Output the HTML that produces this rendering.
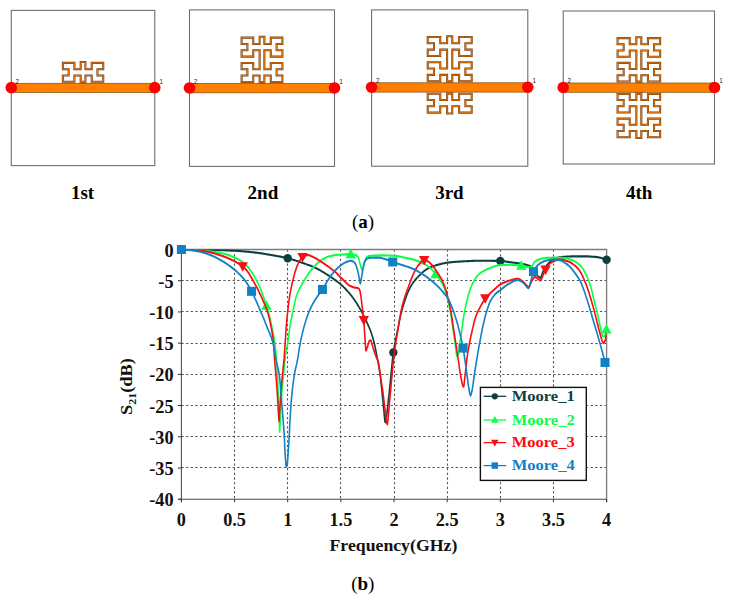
<!DOCTYPE html>
<html><head><meta charset="utf-8"><title>Moore fractal resonator figure</title>
<style>
html,body{margin:0;padding:0;background:#fff;}
body{width:729px;height:601px;overflow:hidden;font-family:"Liberation Serif",serif;}
svg{display:block}
</style></head><body>
<svg width="729" height="601" viewBox="0 0 729 601">
<defs><clipPath id="plotclip"><rect x="181.4" y="249.5" width="425.20" height="251.70"/></clipPath></defs>
<rect x="0" y="0" width="729" height="601" fill="#fff"/>
<rect x="11.30" y="10.40" width="143.50" height="155.20" fill="#fff" stroke="#6f6f6f" stroke-width="1.1"/>
<rect x="80.68" y="81.70" width="4.73" height="3" fill="#ff7f00"/>
<path d="M80.68,85.30 L80.68,81.70 L80.68,75.43 L74.40,75.43 L74.40,81.70 L68.63,81.70 L62.86,81.70 L62.86,75.43 L68.63,75.43 L68.63,69.16 L62.86,69.16 L62.86,62.89 L68.63,62.89 L74.40,62.89 L74.40,69.16 L80.68,69.16 L80.68,62.09 L85.42,62.09 L85.42,69.16 L91.71,69.16 L91.71,62.89 L97.48,62.89 L103.25,62.89 L103.25,69.16 L97.48,69.16 L97.48,75.43 L103.25,75.43 L103.25,81.70 L97.48,81.70 L91.71,81.70 L91.71,75.43 L85.42,75.43 L85.42,81.70 L85.42,85.30 M80.68,81.70 L85.42,81.70" fill="none" stroke="#7a3f0e" stroke-width="2.05" stroke-linejoin="miter"/>
<path d="M80.68,85.30 L80.68,81.70 L80.68,75.43 L74.40,75.43 L74.40,81.70 L68.63,81.70 L62.86,81.70 L62.86,75.43 L68.63,75.43 L68.63,69.16 L62.86,69.16 L62.86,62.89 L68.63,62.89 L74.40,62.89 L74.40,69.16 L80.68,69.16 L80.68,62.09 L85.42,62.09 L85.42,69.16 L91.71,69.16 L91.71,62.89 L97.48,62.89 L103.25,62.89 L103.25,69.16 L97.48,69.16 L97.48,75.43 L103.25,75.43 L103.25,81.70 L97.48,81.70 L91.71,81.70 L91.71,75.43 L85.42,75.43 L85.42,81.70 L85.42,85.30 M80.68,81.70 L85.42,81.70" fill="none" stroke="#e67c12" stroke-width="0.95" stroke-linejoin="miter"/>
<rect x="11.30" y="83.30" width="143.50" height="9.10" fill="#ff7f00" stroke="#8f4f10" stroke-width="0.75"/>
<circle cx="11.30" cy="87.65" r="5.8" fill="#fe0000"/>
<circle cx="154.80" cy="87.65" r="5.8" fill="#fe0000"/>
<text x="15.60" y="83.70" font-family="Liberation Sans, sans-serif" font-size="6.3" fill="#222">2</text>
<text x="159.60" y="83.60" font-family="Liberation Sans, sans-serif" font-size="6.3" fill="#222">1</text>
<rect x="189.50" y="9.90" width="145.00" height="156.50" fill="#fff" stroke="#6f6f6f" stroke-width="1.1"/>
<rect x="259.61" y="81.90" width="4.78" height="3" fill="#ff7f00"/>
<path d="M259.61,85.50 L259.61,81.90 L259.61,75.58 L253.25,75.58 L253.25,81.90 L247.42,81.90 L241.59,81.90 L241.59,75.58 L247.42,75.58 L247.42,69.25 L241.59,69.25 L241.59,62.93 L247.42,62.93 L253.25,62.93 L253.25,69.25 L259.61,69.25 L259.61,62.93 L259.61,56.61 L259.61,50.29 L253.25,50.29 L253.25,56.61 L247.42,56.61 L241.59,56.61 L241.59,50.29 L247.42,50.29 L247.42,43.96 L241.59,43.96 L241.59,37.64 L247.42,37.64 L253.25,37.64 L253.25,43.96 L259.61,43.96 L259.61,36.84 L264.39,36.84 L264.39,43.96 L270.75,43.96 L270.75,37.64 L276.58,37.64 L282.41,37.64 L282.41,43.96 L276.58,43.96 L276.58,50.29 L282.41,50.29 L282.41,56.61 L276.58,56.61 L270.75,56.61 L270.75,50.29 L264.39,50.29 L264.39,56.61 L264.39,62.93 L264.39,69.25 L270.75,69.25 L270.75,62.93 L276.58,62.93 L282.41,62.93 L282.41,69.25 L276.58,69.25 L276.58,75.58 L282.41,75.58 L282.41,81.90 L276.58,81.90 L270.75,81.90 L270.75,75.58 L264.39,75.58 L264.39,81.90 L264.39,85.50 M259.61,81.90 L264.39,81.90" fill="none" stroke="#7a3f0e" stroke-width="2.05" stroke-linejoin="miter"/>
<path d="M259.61,85.50 L259.61,81.90 L259.61,75.58 L253.25,75.58 L253.25,81.90 L247.42,81.90 L241.59,81.90 L241.59,75.58 L247.42,75.58 L247.42,69.25 L241.59,69.25 L241.59,62.93 L247.42,62.93 L253.25,62.93 L253.25,69.25 L259.61,69.25 L259.61,62.93 L259.61,56.61 L259.61,50.29 L253.25,50.29 L253.25,56.61 L247.42,56.61 L241.59,56.61 L241.59,50.29 L247.42,50.29 L247.42,43.96 L241.59,43.96 L241.59,37.64 L247.42,37.64 L253.25,37.64 L253.25,43.96 L259.61,43.96 L259.61,36.84 L264.39,36.84 L264.39,43.96 L270.75,43.96 L270.75,37.64 L276.58,37.64 L282.41,37.64 L282.41,43.96 L276.58,43.96 L276.58,50.29 L282.41,50.29 L282.41,56.61 L276.58,56.61 L270.75,56.61 L270.75,50.29 L264.39,50.29 L264.39,56.61 L264.39,62.93 L264.39,69.25 L270.75,69.25 L270.75,62.93 L276.58,62.93 L282.41,62.93 L282.41,69.25 L276.58,69.25 L276.58,75.58 L282.41,75.58 L282.41,81.90 L276.58,81.90 L270.75,81.90 L270.75,75.58 L264.39,75.58 L264.39,81.90 L264.39,85.50 M259.61,81.90 L264.39,81.90" fill="none" stroke="#e67c12" stroke-width="0.95" stroke-linejoin="miter"/>
<rect x="189.50" y="83.50" width="145.00" height="9.30" fill="#ff7f00" stroke="#8f4f10" stroke-width="0.75"/>
<circle cx="189.50" cy="87.95" r="5.8" fill="#fe0000"/>
<circle cx="334.50" cy="87.95" r="5.8" fill="#fe0000"/>
<text x="193.80" y="83.90" font-family="Liberation Sans, sans-serif" font-size="6.3" fill="#222">2</text>
<text x="339.30" y="83.80" font-family="Liberation Sans, sans-serif" font-size="6.3" fill="#222">1</text>
<rect x="371.60" y="9.90" width="156.20" height="156.30" fill="#fff" stroke="#6f6f6f" stroke-width="1.1"/>
<rect x="447.12" y="81.20" width="5.15" height="3" fill="#ff7f00"/>
<rect x="447.12" y="90.70" width="5.15" height="3" fill="#ff7f00"/>
<path d="M447.12,84.80 L447.12,81.20 L447.12,74.89 L440.28,74.89 L440.28,81.20 L434.00,81.20 L427.72,81.20 L427.72,74.89 L434.00,74.89 L434.00,68.57 L427.72,68.57 L427.72,62.26 L434.00,62.26 L440.28,62.26 L440.28,68.57 L447.12,68.57 L447.12,62.26 L447.12,55.94 L447.12,49.63 L440.28,49.63 L440.28,55.94 L434.00,55.94 L427.72,55.94 L427.72,49.63 L434.00,49.63 L434.00,43.31 L427.72,43.31 L427.72,37.00 L434.00,37.00 L440.28,37.00 L440.28,43.31 L447.12,43.31 L447.12,36.20 L452.28,36.20 L452.28,43.31 L459.12,43.31 L459.12,37.00 L465.40,37.00 L471.68,37.00 L471.68,43.31 L465.40,43.31 L465.40,49.63 L471.68,49.63 L471.68,55.94 L465.40,55.94 L459.12,55.94 L459.12,49.63 L452.28,49.63 L452.28,55.94 L452.28,62.26 L452.28,68.57 L459.12,68.57 L459.12,62.26 L465.40,62.26 L471.68,62.26 L471.68,68.57 L465.40,68.57 L465.40,74.89 L471.68,74.89 L471.68,81.20 L465.40,81.20 L459.12,81.20 L459.12,74.89 L452.28,74.89 L452.28,81.20 L452.28,84.80 M447.12,81.20 L452.28,81.20" fill="none" stroke="#7a3f0e" stroke-width="2.05" stroke-linejoin="miter"/>
<path d="M447.12,84.80 L447.12,81.20 L447.12,74.89 L440.28,74.89 L440.28,81.20 L434.00,81.20 L427.72,81.20 L427.72,74.89 L434.00,74.89 L434.00,68.57 L427.72,68.57 L427.72,62.26 L434.00,62.26 L440.28,62.26 L440.28,68.57 L447.12,68.57 L447.12,62.26 L447.12,55.94 L447.12,49.63 L440.28,49.63 L440.28,55.94 L434.00,55.94 L427.72,55.94 L427.72,49.63 L434.00,49.63 L434.00,43.31 L427.72,43.31 L427.72,37.00 L434.00,37.00 L440.28,37.00 L440.28,43.31 L447.12,43.31 L447.12,36.20 L452.28,36.20 L452.28,43.31 L459.12,43.31 L459.12,37.00 L465.40,37.00 L471.68,37.00 L471.68,43.31 L465.40,43.31 L465.40,49.63 L471.68,49.63 L471.68,55.94 L465.40,55.94 L459.12,55.94 L459.12,49.63 L452.28,49.63 L452.28,55.94 L452.28,62.26 L452.28,68.57 L459.12,68.57 L459.12,62.26 L465.40,62.26 L471.68,62.26 L471.68,68.57 L465.40,68.57 L465.40,74.89 L471.68,74.89 L471.68,81.20 L465.40,81.20 L459.12,81.20 L459.12,74.89 L452.28,74.89 L452.28,81.20 L452.28,84.80 M447.12,81.20 L452.28,81.20" fill="none" stroke="#e67c12" stroke-width="0.95" stroke-linejoin="miter"/>
<path d="M447.12,90.10 L447.12,93.70 L447.12,100.01 L440.28,100.01 L440.28,93.70 L434.00,93.70 L427.72,93.70 L427.72,100.01 L434.00,100.01 L434.00,106.33 L427.72,106.33 L427.72,112.64 L434.00,112.64 L440.28,112.64 L440.28,106.33 L447.12,106.33 L447.12,113.44 L452.28,113.44 L452.28,106.33 L459.12,106.33 L459.12,112.64 L465.40,112.64 L471.68,112.64 L471.68,106.33 L465.40,106.33 L465.40,100.01 L471.68,100.01 L471.68,93.70 L465.40,93.70 L459.12,93.70 L459.12,100.01 L452.28,100.01 L452.28,93.70 L452.28,90.10 M447.12,93.70 L452.28,93.70" fill="none" stroke="#7a3f0e" stroke-width="2.05" stroke-linejoin="miter"/>
<path d="M447.12,90.10 L447.12,93.70 L447.12,100.01 L440.28,100.01 L440.28,93.70 L434.00,93.70 L427.72,93.70 L427.72,100.01 L434.00,100.01 L434.00,106.33 L427.72,106.33 L427.72,112.64 L434.00,112.64 L440.28,112.64 L440.28,106.33 L447.12,106.33 L447.12,113.44 L452.28,113.44 L452.28,106.33 L459.12,106.33 L459.12,112.64 L465.40,112.64 L471.68,112.64 L471.68,106.33 L465.40,106.33 L465.40,100.01 L471.68,100.01 L471.68,93.70 L465.40,93.70 L459.12,93.70 L459.12,100.01 L452.28,100.01 L452.28,93.70 L452.28,90.10 M447.12,93.70 L452.28,93.70" fill="none" stroke="#e67c12" stroke-width="0.95" stroke-linejoin="miter"/>
<rect x="371.60" y="82.80" width="156.20" height="9.30" fill="#ff7f00" stroke="#8f4f10" stroke-width="0.75"/>
<circle cx="371.60" cy="87.25" r="5.8" fill="#fe0000"/>
<circle cx="527.80" cy="87.25" r="5.8" fill="#fe0000"/>
<text x="375.90" y="83.20" font-family="Liberation Sans, sans-serif" font-size="6.3" fill="#222">2</text>
<text x="532.60" y="83.10" font-family="Liberation Sans, sans-serif" font-size="6.3" fill="#222">1</text>
<rect x="563.20" y="11.00" width="151.30" height="153.00" fill="#fff" stroke="#6f6f6f" stroke-width="1.1"/>
<rect x="636.36" y="81.40" width="4.99" height="3" fill="#ff7f00"/>
<rect x="636.36" y="90.90" width="4.99" height="3" fill="#ff7f00"/>
<path d="M636.36,85.00 L636.36,81.40 L636.36,75.22 L629.72,75.22 L629.72,81.40 L623.64,81.40 L617.56,81.40 L617.56,75.22 L623.64,75.22 L623.64,69.04 L617.56,69.04 L617.56,62.86 L623.64,62.86 L629.72,62.86 L629.72,69.04 L636.36,69.04 L636.36,62.86 L636.36,56.68 L636.36,50.49 L629.72,50.49 L629.72,56.68 L623.64,56.68 L617.56,56.68 L617.56,50.49 L623.64,50.49 L623.64,44.31 L617.56,44.31 L617.56,38.13 L623.64,38.13 L629.72,38.13 L629.72,44.31 L636.36,44.31 L636.36,37.33 L641.34,37.33 L641.34,44.31 L647.98,44.31 L647.98,38.13 L654.06,38.13 L660.14,38.13 L660.14,44.31 L654.06,44.31 L654.06,50.49 L660.14,50.49 L660.14,56.68 L654.06,56.68 L647.98,56.68 L647.98,50.49 L641.34,50.49 L641.34,56.68 L641.34,62.86 L641.34,69.04 L647.98,69.04 L647.98,62.86 L654.06,62.86 L660.14,62.86 L660.14,69.04 L654.06,69.04 L654.06,75.22 L660.14,75.22 L660.14,81.40 L654.06,81.40 L647.98,81.40 L647.98,75.22 L641.34,75.22 L641.34,81.40 L641.34,85.00 M636.36,81.40 L641.34,81.40" fill="none" stroke="#7a3f0e" stroke-width="2.05" stroke-linejoin="miter"/>
<path d="M636.36,85.00 L636.36,81.40 L636.36,75.22 L629.72,75.22 L629.72,81.40 L623.64,81.40 L617.56,81.40 L617.56,75.22 L623.64,75.22 L623.64,69.04 L617.56,69.04 L617.56,62.86 L623.64,62.86 L629.72,62.86 L629.72,69.04 L636.36,69.04 L636.36,62.86 L636.36,56.68 L636.36,50.49 L629.72,50.49 L629.72,56.68 L623.64,56.68 L617.56,56.68 L617.56,50.49 L623.64,50.49 L623.64,44.31 L617.56,44.31 L617.56,38.13 L623.64,38.13 L629.72,38.13 L629.72,44.31 L636.36,44.31 L636.36,37.33 L641.34,37.33 L641.34,44.31 L647.98,44.31 L647.98,38.13 L654.06,38.13 L660.14,38.13 L660.14,44.31 L654.06,44.31 L654.06,50.49 L660.14,50.49 L660.14,56.68 L654.06,56.68 L647.98,56.68 L647.98,50.49 L641.34,50.49 L641.34,56.68 L641.34,62.86 L641.34,69.04 L647.98,69.04 L647.98,62.86 L654.06,62.86 L660.14,62.86 L660.14,69.04 L654.06,69.04 L654.06,75.22 L660.14,75.22 L660.14,81.40 L654.06,81.40 L647.98,81.40 L647.98,75.22 L641.34,75.22 L641.34,81.40 L641.34,85.00 M636.36,81.40 L641.34,81.40" fill="none" stroke="#e67c12" stroke-width="0.95" stroke-linejoin="miter"/>
<path d="M636.36,90.30 L636.36,93.90 L636.36,100.08 L629.72,100.08 L629.72,93.90 L623.64,93.90 L617.56,93.90 L617.56,100.08 L623.64,100.08 L623.64,106.26 L617.56,106.26 L617.56,112.44 L623.64,112.44 L629.72,112.44 L629.72,106.26 L636.36,106.26 L636.36,112.44 L636.36,118.62 L636.36,124.81 L629.72,124.81 L629.72,118.62 L623.64,118.62 L617.56,118.62 L617.56,124.81 L623.64,124.81 L623.64,130.99 L617.56,130.99 L617.56,137.17 L623.64,137.17 L629.72,137.17 L629.72,130.99 L636.36,130.99 L636.36,137.97 L641.34,137.97 L641.34,130.99 L647.98,130.99 L647.98,137.17 L654.06,137.17 L660.14,137.17 L660.14,130.99 L654.06,130.99 L654.06,124.81 L660.14,124.81 L660.14,118.62 L654.06,118.62 L647.98,118.62 L647.98,124.81 L641.34,124.81 L641.34,118.62 L641.34,112.44 L641.34,106.26 L647.98,106.26 L647.98,112.44 L654.06,112.44 L660.14,112.44 L660.14,106.26 L654.06,106.26 L654.06,100.08 L660.14,100.08 L660.14,93.90 L654.06,93.90 L647.98,93.90 L647.98,100.08 L641.34,100.08 L641.34,93.90 L641.34,90.30 M636.36,93.90 L641.34,93.90" fill="none" stroke="#7a3f0e" stroke-width="2.05" stroke-linejoin="miter"/>
<path d="M636.36,90.30 L636.36,93.90 L636.36,100.08 L629.72,100.08 L629.72,93.90 L623.64,93.90 L617.56,93.90 L617.56,100.08 L623.64,100.08 L623.64,106.26 L617.56,106.26 L617.56,112.44 L623.64,112.44 L629.72,112.44 L629.72,106.26 L636.36,106.26 L636.36,112.44 L636.36,118.62 L636.36,124.81 L629.72,124.81 L629.72,118.62 L623.64,118.62 L617.56,118.62 L617.56,124.81 L623.64,124.81 L623.64,130.99 L617.56,130.99 L617.56,137.17 L623.64,137.17 L629.72,137.17 L629.72,130.99 L636.36,130.99 L636.36,137.97 L641.34,137.97 L641.34,130.99 L647.98,130.99 L647.98,137.17 L654.06,137.17 L660.14,137.17 L660.14,130.99 L654.06,130.99 L654.06,124.81 L660.14,124.81 L660.14,118.62 L654.06,118.62 L647.98,118.62 L647.98,124.81 L641.34,124.81 L641.34,118.62 L641.34,112.44 L641.34,106.26 L647.98,106.26 L647.98,112.44 L654.06,112.44 L660.14,112.44 L660.14,106.26 L654.06,106.26 L654.06,100.08 L660.14,100.08 L660.14,93.90 L654.06,93.90 L647.98,93.90 L647.98,100.08 L641.34,100.08 L641.34,93.90 L641.34,90.30 M636.36,93.90 L641.34,93.90" fill="none" stroke="#e67c12" stroke-width="0.95" stroke-linejoin="miter"/>
<rect x="563.20" y="83.00" width="151.30" height="9.30" fill="#ff7f00" stroke="#8f4f10" stroke-width="0.75"/>
<circle cx="563.20" cy="87.45" r="5.8" fill="#fe0000"/>
<circle cx="714.50" cy="87.45" r="5.8" fill="#fe0000"/>
<text x="567.50" y="83.40" font-family="Liberation Sans, sans-serif" font-size="6.3" fill="#222">2</text>
<text x="719.30" y="83.30" font-family="Liberation Sans, sans-serif" font-size="6.3" fill="#222">1</text>
<text x="82.6" y="198.9" font-family="Liberation Serif, serif" font-size="19" font-weight="bold" text-anchor="middle" fill="#000">1st</text>
<text x="262.9" y="198.9" font-family="Liberation Serif, serif" font-size="19" font-weight="bold" text-anchor="middle" fill="#000">2nd</text>
<text x="449.4" y="198.9" font-family="Liberation Serif, serif" font-size="19" font-weight="bold" text-anchor="middle" fill="#000">3rd</text>
<text x="639.2" y="198.9" font-family="Liberation Serif, serif" font-size="19" font-weight="bold" text-anchor="middle" fill="#000">4th</text>
<text x="363" y="227.7" font-family="Liberation Serif, serif" font-size="19" text-anchor="middle" fill="#000">(<tspan font-weight="bold">a</tspan>)</text>
<text x="362.8" y="590" font-family="Liberation Serif, serif" font-size="19" text-anchor="middle" fill="#000">(<tspan font-weight="bold">b</tspan>)</text>
<rect x="181.4" y="249.5" width="425.20" height="249.70" fill="#fff" stroke="none"/>
<line x1="234.50" y1="249.5" x2="234.50" y2="499.2" stroke="#585858" stroke-width="1.1" stroke-dasharray="2.3,2.35"/>
<line x1="287.50" y1="249.5" x2="287.50" y2="499.2" stroke="#585858" stroke-width="1.1" stroke-dasharray="2.3,2.35"/>
<line x1="340.50" y1="249.5" x2="340.50" y2="499.2" stroke="#585858" stroke-width="1.1" stroke-dasharray="2.3,2.35"/>
<line x1="394.50" y1="249.5" x2="394.50" y2="499.2" stroke="#585858" stroke-width="1.1" stroke-dasharray="2.3,2.35"/>
<line x1="447.50" y1="249.5" x2="447.50" y2="499.2" stroke="#585858" stroke-width="1.1" stroke-dasharray="2.3,2.35"/>
<line x1="500.50" y1="249.5" x2="500.50" y2="499.2" stroke="#585858" stroke-width="1.1" stroke-dasharray="2.3,2.35"/>
<line x1="553.50" y1="249.5" x2="553.50" y2="499.2" stroke="#585858" stroke-width="1.1" stroke-dasharray="2.3,2.35"/>
<line x1="181.4" y1="280.50" x2="606.6" y2="280.50" stroke="#585858" stroke-width="1.1" stroke-dasharray="2.3,2.35"/>
<line x1="181.4" y1="311.50" x2="606.6" y2="311.50" stroke="#585858" stroke-width="1.1" stroke-dasharray="2.3,2.35"/>
<line x1="181.4" y1="343.50" x2="606.6" y2="343.50" stroke="#585858" stroke-width="1.1" stroke-dasharray="2.3,2.35"/>
<line x1="181.4" y1="374.50" x2="606.6" y2="374.50" stroke="#585858" stroke-width="1.1" stroke-dasharray="2.3,2.35"/>
<line x1="181.4" y1="405.50" x2="606.6" y2="405.50" stroke="#585858" stroke-width="1.1" stroke-dasharray="2.3,2.35"/>
<line x1="181.4" y1="436.50" x2="606.6" y2="436.50" stroke="#585858" stroke-width="1.1" stroke-dasharray="2.3,2.35"/>
<line x1="181.4" y1="467.50" x2="606.6" y2="467.50" stroke="#585858" stroke-width="1.1" stroke-dasharray="2.3,2.35"/>
<path d="M181.4,249.5 L606.6,249.5 L606.6,502.2" fill="none" stroke="#7c7c7c" stroke-width="1.3"/>
<line x1="181.4" y1="249.5" x2="181.4" y2="502.2" stroke="#4a4a4a" stroke-width="1.05"/>
<line x1="178.4" y1="499.2" x2="606.6" y2="499.2" stroke="#4a4a4a" stroke-width="1.05"/>
<line x1="181.40" y1="499.2" x2="181.40" y2="502.2" stroke="#333" stroke-width="1"/>
<line x1="234.55" y1="499.2" x2="234.55" y2="502.2" stroke="#333" stroke-width="1"/>
<line x1="287.70" y1="499.2" x2="287.70" y2="502.2" stroke="#333" stroke-width="1"/>
<line x1="340.85" y1="499.2" x2="340.85" y2="502.2" stroke="#333" stroke-width="1"/>
<line x1="394.00" y1="499.2" x2="394.00" y2="502.2" stroke="#333" stroke-width="1"/>
<line x1="447.15" y1="499.2" x2="447.15" y2="502.2" stroke="#333" stroke-width="1"/>
<line x1="500.30" y1="499.2" x2="500.30" y2="502.2" stroke="#333" stroke-width="1"/>
<line x1="553.45" y1="499.2" x2="553.45" y2="502.2" stroke="#333" stroke-width="1"/>
<line x1="606.60" y1="499.2" x2="606.60" y2="502.2" stroke="#333" stroke-width="1"/>
<line x1="177.9" y1="249.50" x2="181.4" y2="249.50" stroke="#333" stroke-width="1"/>
<line x1="177.9" y1="280.71" x2="181.4" y2="280.71" stroke="#333" stroke-width="1"/>
<line x1="177.9" y1="311.93" x2="181.4" y2="311.93" stroke="#333" stroke-width="1"/>
<line x1="177.9" y1="343.14" x2="181.4" y2="343.14" stroke="#333" stroke-width="1"/>
<line x1="177.9" y1="374.35" x2="181.4" y2="374.35" stroke="#333" stroke-width="1"/>
<line x1="177.9" y1="405.56" x2="181.4" y2="405.56" stroke="#333" stroke-width="1"/>
<line x1="177.9" y1="436.77" x2="181.4" y2="436.77" stroke="#333" stroke-width="1"/>
<line x1="177.9" y1="467.99" x2="181.4" y2="467.99" stroke="#333" stroke-width="1"/>
<line x1="177.9" y1="499.20" x2="181.4" y2="499.20" stroke="#333" stroke-width="1"/>
<g clip-path="url(#plotclip)"><path transform="scale(0.75,1)" d="M241.9,249.5 242.7,249.5 243.6,249.5 244.4,249.5 245.3,249.5 246.1,249.5 247.0,249.5 247.8,249.5 248.7,249.5 249.5,249.5 250.4,249.5 251.2,249.5 252.1,249.5 252.9,249.5 253.8,249.5 254.6,249.6 255.5,249.6 256.3,249.6 257.2,249.6 258.0,249.6 258.9,249.6 259.7,249.6 260.6,249.6 261.4,249.6 262.3,249.6 263.1,249.6 264.0,249.6 264.8,249.7 265.7,249.7 266.5,249.7 267.4,249.7 268.2,249.7 269.1,249.7 269.9,249.7 270.8,249.7 271.6,249.7 272.5,249.7 273.3,249.8 274.2,249.8 275.0,249.8 275.9,249.8 276.7,249.8 277.3,249.8 277.6,249.8 278.4,249.8 279.3,249.8 280.1,249.9 281.0,249.9 281.8,249.9 282.7,249.9 283.5,249.9 284.4,249.9 285.2,249.9 286.1,250.0 286.9,250.0 287.8,250.0 288.6,250.0 289.5,250.0 290.3,250.1 291.2,250.1 292.0,250.1 292.9,250.1 293.7,250.1 294.6,250.2 295.4,250.2 296.3,250.2 297.1,250.2 298.0,250.3 298.8,250.3 299.7,250.3 300.5,250.3 301.4,250.4 302.2,250.4 303.1,250.4 303.9,250.4 304.8,250.5 305.6,250.5 306.5,250.5 307.3,250.6 308.2,250.6 309.0,250.6 309.9,250.6 310.7,250.7 311.6,250.7 312.4,250.7 312.7,250.7 313.3,250.8 314.2,250.8 315.0,250.8 315.9,250.9 316.7,250.9 317.6,251.0 318.4,251.0 319.3,251.0 320.1,251.1 321.0,251.1 321.8,251.2 322.7,251.2 323.5,251.3 324.4,251.3 325.2,251.4 326.1,251.5 326.9,251.5 327.8,251.6 328.6,251.6 329.5,251.7 330.3,251.8 331.2,251.8 332.0,251.9 332.9,251.9 333.7,252.0 334.6,252.1 335.4,252.2 336.3,252.2 337.1,252.3 338.0,252.4 338.8,252.4 339.7,252.5 340.5,252.6 341.1,252.6 341.4,252.6 342.2,252.7 343.1,252.8 343.9,252.9 344.8,253.0 345.6,253.1 346.5,253.1 347.3,253.2 348.2,253.3 349.0,253.4 349.9,253.5 350.7,253.6 351.6,253.7 352.4,253.8 353.3,253.9 354.1,254.1 355.0,254.2 355.8,254.3 356.7,254.4 357.5,254.5 358.4,254.6 359.2,254.7 360.1,254.8 360.9,254.9 361.8,255.0 362.3,255.1 362.6,255.2 363.5,255.3 364.3,255.4 365.2,255.5 366.0,255.6 366.9,255.7 367.7,255.8 368.6,255.9 369.4,256.1 370.3,256.2 371.1,256.3 372.0,256.4 372.8,256.5 373.7,256.6 374.5,256.8 375.4,256.9 376.2,257.0 377.1,257.2 377.9,257.3 378.8,257.4 379.6,257.6 380.5,257.7 381.3,257.8 382.2,258.0 383.0,258.1 383.6,258.2 383.9,258.3 384.7,258.4 385.6,258.6 386.4,258.8 387.3,259.0 388.1,259.1 389.0,259.3 389.8,259.5 390.7,259.7 391.5,259.9 392.4,260.1 393.2,260.3 394.1,260.5 394.9,260.7 395.8,260.9 396.6,261.1 397.5,261.3 398.3,261.5 399.2,261.8 400.0,262.0 400.9,262.2 401.7,262.4 402.6,262.6 403.4,262.9 404.3,263.1 404.9,263.2 405.1,263.3 406.0,263.5 406.8,263.8 407.7,264.0 408.5,264.2 409.4,264.4 410.2,264.7 411.1,264.9 411.9,265.1 412.8,265.4 413.6,265.6 414.5,265.8 415.3,266.1 416.2,266.4 417.0,266.6 417.9,266.9 418.7,267.2 419.6,267.5 420.0,267.6 420.5,267.8 421.3,268.1 422.2,268.4 423.0,268.7 423.9,269.1 424.7,269.4 425.6,269.8 426.4,270.1 427.3,270.5 428.1,270.9 429.0,271.3 429.8,271.7 430.7,272.0 431.5,272.4 432.4,272.8 433.2,273.2 434.1,273.6 434.9,274.0 435.8,274.4 436.6,274.8 437.5,275.2 438.3,275.6 439.2,276.0 440.0,276.5 440.9,276.9 441.7,277.3 442.6,277.8 443.4,278.2 444.3,278.6 445.1,279.1 446.0,279.5 446.8,280.0 447.0,280.1 447.7,280.5 448.5,281.0 449.4,281.4 450.2,281.9 451.1,282.4 451.9,282.9 452.8,283.4 453.6,284.0 454.5,284.5 455.3,285.1 456.2,285.7 457.0,286.2 457.9,286.8 458.7,287.5 459.6,288.1 460.4,288.7 461.3,289.4 462.1,290.1 463.0,290.8 463.8,291.5 464.4,291.9 464.7,292.2 465.5,292.9 466.4,293.7 467.2,294.5 468.1,295.3 468.9,296.1 469.8,297.0 470.6,297.8 471.5,298.7 472.3,299.6 473.2,300.5 473.3,300.7 474.0,301.5 474.9,302.4 475.7,303.4 476.6,304.5 477.4,305.5 478.3,306.6 479.1,307.7 480.0,308.8 480.8,309.9 481.4,310.7 481.7,311.1 482.5,312.2 483.4,313.4 484.2,314.7 485.1,315.9 485.9,317.2 486.8,318.5 487.6,319.9 488.5,321.2 488.9,321.9 489.3,322.6 490.2,324.0 491.0,325.4 491.9,326.8 492.7,328.3 493.6,329.9 494.4,331.6 494.6,331.9 495.3,333.4 496.1,335.3 497.0,337.4 497.8,339.7 498.4,341.3 498.7,342.1 499.5,344.8 500.4,347.8 501.2,351.0 502.1,354.3 502.9,357.7 503.4,359.4 503.8,361.0 504.6,364.3 505.5,367.7 506.3,371.7 506.6,373.1 507.2,376.4 508.0,382.3 508.9,388.5 509.2,390.6 509.7,394.8 510.6,401.3 511.4,407.7 511.6,408.7 512.3,414.4 513.1,420.8 513.7,422.4 514.0,422.2 514.8,419.2 515.7,414.9 516.5,409.6 517.4,403.4 517.5,402.4 518.2,397.6 519.1,391.8 519.5,388.7 519.9,385.5 520.8,378.9 521.6,372.3 521.8,371.2 522.5,365.9 523.3,359.6 524.2,354.1 524.5,352.5 525.0,349.7 525.9,345.9 526.8,342.5 527.6,339.3 528.5,336.3 529.3,333.1 530.2,329.9 531.0,326.7 531.9,323.5 532.7,320.3 533.6,317.3 534.4,314.5 535.3,311.9 536.1,309.5 537.0,307.3 537.8,305.2 538.7,303.2 539.5,301.3 540.4,299.4 541.2,297.5 542.1,295.7 542.9,294.0 543.8,292.4 544.6,290.9 544.8,290.7 545.5,289.6 546.3,288.3 547.2,287.1 548.0,285.9 548.9,284.9 549.7,283.8 550.6,282.9 550.8,282.6 551.4,282.0 552.3,281.2 553.1,280.4 554.0,279.6 554.8,278.9 555.7,278.2 556.5,277.5 557.2,277.0 557.4,276.9 558.2,276.2 559.1,275.5 559.9,274.9 560.8,274.2 561.6,273.6 562.5,273.0 563.3,272.4 564.2,271.9 565.0,271.3 565.0,271.3 565.9,270.9 566.7,270.4 567.6,269.9 568.4,269.5 569.3,269.1 570.1,268.7 571.0,268.3 571.8,268.0 572.7,267.7 572.8,267.6 573.5,267.4 574.4,267.1 575.2,266.8 576.1,266.6 576.9,266.3 577.8,266.1 578.6,265.9 579.5,265.7 580.3,265.5 581.2,265.3 582.0,265.1 582.9,264.9 583.7,264.7 584.6,264.5 584.9,264.5 585.4,264.4 586.3,264.2 587.1,264.1 588.0,263.9 588.8,263.7 589.7,263.6 590.5,263.5 591.4,263.3 592.2,263.2 593.1,263.1 593.9,263.0 594.8,262.8 595.6,262.8 596.5,262.7 597.1,262.6 597.3,262.6 598.2,262.5 599.0,262.4 599.9,262.4 600.7,262.3 601.6,262.2 602.4,262.2 603.3,262.1 604.1,262.0 605.0,262.0 605.8,261.9 606.7,261.9 607.5,261.8 608.4,261.8 609.2,261.7 610.1,261.7 610.9,261.6 611.8,261.6 612.6,261.6 613.5,261.5 614.3,261.5 615.2,261.5 616.0,261.4 616.9,261.4 617.5,261.4 617.7,261.3 618.6,261.3 619.4,261.3 620.3,261.3 621.1,261.2 622.0,261.2 622.8,261.2 623.7,261.1 624.5,261.1 625.4,261.1 626.2,261.0 627.1,261.0 627.9,261.0 628.8,260.9 629.6,260.9 630.5,260.9 631.3,260.9 632.2,260.8 633.1,260.8 633.9,260.8 634.8,260.8 635.6,260.8 636.5,260.8 637.3,260.8 638.2,260.7 639.0,260.7 639.9,260.7 640.1,260.7 640.7,260.7 641.6,260.7 642.4,260.7 643.3,260.7 644.1,260.7 645.0,260.7 645.8,260.8 646.7,260.8 647.5,260.8 648.4,260.8 649.2,260.8 650.1,260.8 650.9,260.8 651.8,260.8 652.6,260.8 653.5,260.8 654.3,260.8 655.2,260.8 656.0,260.8 656.9,260.9 657.7,260.9 658.6,260.9 659.4,260.9 660.3,260.9 661.1,260.9 662.0,260.9 662.8,261.0 663.7,261.0 664.5,261.0 665.4,261.0 666.2,261.0 667.1,261.0 667.9,261.1 668.8,261.1 669.6,261.2 670.5,261.2 671.3,261.3 672.2,261.3 673.0,261.4 673.9,261.5 674.7,261.6 675.6,261.7 676.4,261.8 677.3,261.9 678.1,262.0 679.0,262.1 679.8,262.2 680.7,262.2 681.2,262.3 681.5,262.3 682.4,262.4 683.2,262.5 684.1,262.6 684.9,262.7 685.8,262.7 686.6,262.8 687.5,262.9 688.3,263.0 689.2,263.1 690.0,263.2 690.9,263.3 691.7,263.4 692.6,263.5 693.4,263.6 694.3,263.7 695.1,263.8 695.4,263.9 696.0,263.9 696.8,264.1 697.7,264.2 698.5,264.3 699.4,264.4 700.2,264.5 701.1,264.7 701.9,264.8 702.8,265.0 703.6,265.2 704.5,265.4 705.3,265.6 706.2,265.9 707.0,266.1 707.6,266.4 707.9,266.5 708.7,267.1 709.6,267.9 710.4,269.0 711.3,270.0 712.1,271.0 712.4,271.3 713.0,272.0 713.8,273.0 714.7,274.1 715.5,275.0 716.4,275.7 717.2,276.2 718.1,276.7 718.9,277.2 719.8,277.5 720.6,277.6 720.8,277.6 721.5,277.0 722.3,275.2 723.2,273.1 723.8,272.0 724.0,271.5 724.9,270.3 725.7,269.1 726.6,268.0 727.4,267.0 728.0,266.4 728.3,266.1 729.1,265.2 730.0,264.5 730.8,263.7 731.7,263.0 732.5,262.4 733.4,261.8 734.0,261.4 734.2,261.2 735.1,260.5 735.9,259.9 736.8,259.4 737.6,259.0 737.9,258.9 738.5,258.7 739.4,258.5 740.2,258.3 741.1,258.1 741.9,257.9 742.8,257.8 743.6,257.7 744.5,257.5 745.3,257.4 746.2,257.3 746.4,257.3 747.0,257.2 747.9,257.2 748.7,257.1 749.6,257.0 750.4,256.9 751.3,256.9 752.1,256.8 753.0,256.8 753.8,256.7 754.5,256.7 754.7,256.7 755.5,256.6 756.4,256.6 757.2,256.6 758.1,256.5 758.9,256.5 759.8,256.5 760.6,256.5 761.5,256.4 762.3,256.4 763.2,256.4 764.0,256.4 764.9,256.4 765.7,256.4 766.3,256.4 766.6,256.4 767.4,256.4 768.3,256.4 769.1,256.4 770.0,256.4 770.8,256.4 771.7,256.4 772.5,256.4 773.4,256.4 774.2,256.4 775.1,256.4 775.9,256.4 776.8,256.4 777.6,256.4 778.5,256.4 779.3,256.4 780.2,256.4 780.5,256.4 781.0,256.4 781.9,256.4 782.7,256.4 783.6,256.4 784.4,256.4 785.3,256.5 786.1,256.5 787.0,256.5 787.8,256.6 788.7,256.6 789.5,256.7 790.4,256.7 791.2,256.8 792.1,256.8 792.9,256.9 793.8,256.9 794.6,257.0 795.5,257.1 796.3,257.1 797.2,257.2 798.0,257.3 798.9,257.5 799.7,257.6 800.6,257.7 801.4,257.9 801.7,257.9 802.3,258.0 803.1,258.2 804.0,258.4 804.8,258.6 805.7,258.8 806.5,259.1 807.4,259.3 808.2,259.6 808.8,259.8" fill="none" stroke="#0c3f3f" stroke-width="2.1" stroke-linejoin="round"/></g>
<circle cx="287.70" cy="258.24" r="4.2" fill="#0c3f3f"/>
<circle cx="393.36" cy="352.50" r="4.2" fill="#0c3f3f"/>
<circle cx="500.30" cy="261.05" r="4.2" fill="#0c3f3f"/>
<circle cx="606.60" cy="259.80" r="4.2" fill="#0c3f3f"/>
<g clip-path="url(#plotclip)"><path transform="scale(0.75,1)" d="M241.9,249.5 242.7,249.5 243.6,249.5 244.4,249.5 245.3,249.5 246.1,249.5 247.0,249.5 247.8,249.6 248.7,249.6 249.5,249.6 250.4,249.6 251.2,249.6 252.1,249.7 252.9,249.7 253.8,249.7 254.6,249.7 255.5,249.8 256.3,249.8 257.2,249.8 258.0,249.9 258.9,249.9 259.7,249.9 260.6,250.0 261.4,250.0 262.3,250.0 263.1,250.1 264.0,250.1 264.5,250.1 264.8,250.1 265.7,250.2 266.5,250.2 267.4,250.3 268.2,250.3 269.1,250.4 269.9,250.4 270.8,250.5 271.6,250.6 272.5,250.7 273.3,250.7 274.2,250.8 275.0,250.9 275.9,251.0 276.7,251.0 277.6,251.1 278.4,251.2 279.3,251.3 280.1,251.4 281.0,251.5 281.8,251.5 282.7,251.6 283.5,251.7 284.4,251.8 285.2,251.9 286.1,252.0 286.9,252.1 287.8,252.2 288.6,252.3 289.5,252.4 290.3,252.5 291.2,252.6 292.0,252.7 292.9,252.8 293.7,252.9 294.6,253.1 295.4,253.2 295.7,253.2 296.3,253.3 297.1,253.5 298.0,253.6 298.8,253.8 299.7,254.0 300.5,254.1 301.4,254.3 302.2,254.5 303.1,254.7 303.9,254.9 304.8,255.1 305.6,255.4 306.5,255.6 307.3,255.8 308.2,256.1 309.0,256.3 309.9,256.6 310.7,256.8 311.3,257.0 311.6,257.1 312.4,257.4 313.3,257.6 314.2,257.9 315.0,258.3 315.9,258.6 316.7,258.9 317.6,259.3 318.4,259.6 319.3,260.0 320.1,260.4 321.0,260.8 321.8,261.3 322.7,261.7 323.5,262.2 324.4,262.6 325.2,263.1 326.1,263.6 326.9,264.2 327.8,264.7 328.6,265.4 329.5,266.1 330.3,266.8 331.2,267.6 332.0,268.4 332.9,269.3 333.7,270.2 334.6,271.1 335.4,272.0 336.3,272.9 337.1,273.9 338.0,274.9 338.8,276.0 339.7,277.1 340.5,278.3 341.4,279.5 342.2,280.7 343.1,282.0 343.9,283.3 344.8,284.6 345.6,286.0 346.5,287.5 347.3,289.0 348.2,290.5 349.0,292.1 349.6,293.2 349.9,293.7 350.7,295.5 351.6,297.3 352.4,299.2 353.3,301.1 354.1,303.0 355.0,305.0 355.3,305.7 355.8,307.0 356.7,309.0 357.5,311.2 357.8,311.9 358.4,313.5 359.2,316.0 360.1,318.6 360.9,321.4 361.8,324.3 362.3,326.3 362.6,327.3 363.5,330.3 364.3,333.5 365.2,337.0 366.0,340.9 366.5,343.1 366.9,345.6 367.7,351.4 368.6,358.6 368.7,360.0 369.4,368.4 369.9,374.4 370.3,381.0 371.1,396.2 372.0,412.5 372.3,418.0 372.8,430.8 373.0,431.8 373.7,420.6 373.8,418.0 374.5,407.0 375.1,399.3 375.4,396.2 376.2,388.4 376.8,383.7 377.1,381.5 377.9,375.4 378.1,374.4 378.8,368.7 379.6,361.9 379.9,360.0 380.5,356.5 381.3,351.9 381.5,351.3 382.2,348.4 383.0,345.4 383.6,343.1 383.9,341.8 384.7,337.1 385.6,332.0 386.4,327.5 387.3,323.8 388.1,320.3 389.0,317.1 389.8,314.0 390.4,311.9 390.7,310.9 391.5,307.8 392.4,304.7 393.2,301.7 394.1,299.0 394.9,296.7 395.2,296.0 395.8,294.8 396.6,293.1 397.5,291.7 398.3,290.3 399.2,289.0 400.0,287.8 400.6,287.0 400.9,286.5 401.7,285.3 402.6,284.1 403.4,283.0 404.3,281.9 405.1,280.8 406.0,279.8 406.3,279.5 406.8,278.8 407.7,277.8 408.5,276.8 409.4,275.8 410.2,274.9 411.1,274.0 411.9,273.0 412.8,272.1 413.6,271.3 414.5,270.4 415.3,269.6 416.2,268.8 417.0,268.1 417.2,268.0 417.9,267.4 418.7,266.7 419.6,266.0 420.5,265.3 421.3,264.6 422.2,263.9 423.0,263.3 423.9,262.7 424.7,262.1 425.6,261.6 426.4,261.1 427.3,260.6 428.1,260.2 428.2,260.1 429.0,259.8 429.8,259.4 430.7,259.1 431.5,258.7 432.4,258.4 433.2,258.1 434.1,257.8 434.9,257.5 435.8,257.2 436.6,257.0 437.5,256.8 438.3,256.5 439.2,256.4 439.2,256.4 440.0,256.2 440.9,256.0 441.7,255.9 442.6,255.7 443.4,255.6 444.3,255.5 445.1,255.3 446.0,255.2 446.8,255.1 447.7,255.0 448.5,254.9 449.4,254.9 450.2,254.8 451.1,254.8 451.9,254.7 452.8,254.7 453.6,254.6 454.5,254.6 455.3,254.5 456.2,254.5 457.0,254.5 457.3,254.5 457.9,254.5 458.7,254.5 459.6,254.5 460.4,254.4 461.3,254.4 462.1,254.4 463.0,254.4 463.8,254.4 464.7,254.4 465.5,254.4 466.4,254.4 467.2,254.4 467.6,254.4 468.1,254.4 468.9,254.4 469.8,254.5 470.6,254.5 471.5,254.6 472.3,254.8 473.2,254.9 474.0,255.1 474.3,255.1 474.9,255.3 475.7,255.7 476.6,256.3 477.4,257.1 477.9,257.6 478.3,258.3 479.1,260.8 480.0,263.7 480.7,265.7 480.8,266.1 481.7,268.4 482.5,270.0 482.8,270.1 483.4,269.6 484.2,267.5 484.9,265.7 485.1,265.4 485.9,263.3 486.8,260.9 487.6,258.8 488.5,257.3 488.9,257.0 489.3,256.8 490.2,256.5 491.0,256.2 491.9,256.0 492.7,255.9 493.6,255.8 494.2,255.7 494.4,255.7 495.3,255.7 496.1,255.7 497.0,255.6 497.8,255.6 498.7,255.6 499.5,255.6 500.4,255.5 501.2,255.5 502.1,255.5 502.9,255.5 503.8,255.5 504.6,255.5 505.5,255.5 506.3,255.5 507.2,255.4 508.0,255.4 508.9,255.4 509.7,255.4 510.6,255.4 511.2,255.4 511.4,255.4 512.3,255.4 513.1,255.4 514.0,255.4 514.8,255.5 515.7,255.5 516.5,255.5 517.4,255.5 518.2,255.5 519.1,255.5 519.9,255.6 520.8,255.6 521.6,255.6 522.5,255.6 523.3,255.7 524.2,255.7 525.0,255.7 525.3,255.7 525.9,255.8 526.8,255.8 527.6,255.9 528.5,256.0 529.3,256.1 530.2,256.2 531.0,256.3 531.9,256.4 532.7,256.5 533.6,256.7 534.4,256.8 535.3,256.9 536.1,257.1 537.0,257.2 537.8,257.4 538.7,257.5 539.5,257.6 540.4,257.7 541.2,257.9 542.1,258.0 542.9,258.1 543.8,258.2 544.6,258.4 545.5,258.5 546.3,258.6 547.2,258.8 548.0,258.9 548.9,259.1 549.7,259.3 550.6,259.4 550.8,259.5 551.4,259.6 552.3,259.8 553.1,260.0 554.0,260.2 554.8,260.4 555.7,260.6 556.5,260.9 557.4,261.1 558.2,261.3 559.1,261.6 559.9,261.8 560.8,262.1 561.6,262.4 562.5,262.7 563.3,263.0 564.2,263.3 565.0,263.6 565.9,263.9 566.4,264.2 566.7,264.3 567.6,264.6 568.4,265.0 569.3,265.4 570.1,265.9 571.0,266.3 571.8,266.8 572.7,267.3 573.5,267.9 574.4,268.5 574.9,268.9 575.2,269.1 576.1,269.7 576.9,270.5 577.8,271.3 578.6,272.2 579.5,273.1 580.3,273.9 580.6,274.2 581.2,274.7 582.0,275.4 582.9,276.2 583.7,276.9 584.6,277.7 585.4,278.6 586.3,279.5 587.1,280.4 588.0,281.4 588.8,282.5 589.7,283.7 590.5,284.9 591.4,286.3 592.2,287.9 593.1,289.7 593.9,291.7 594.8,293.8 595.6,296.1 596.5,298.4 597.1,300.1 597.3,300.9 598.2,303.6 599.0,306.5 599.9,309.7 600.5,311.9 600.7,313.1 601.6,316.9 602.4,321.1 603.3,325.3 603.9,328.2 604.1,329.6 605.0,333.8 605.8,338.1 606.7,342.4 606.8,343.1 607.5,347.5 608.4,353.0 609.2,356.2 609.4,356.2 610.1,355.9 610.9,354.6 611.1,354.4 611.8,351.5 612.6,345.9 613.2,342.5 613.5,341.2 614.3,337.6 615.2,333.8 616.0,329.0 616.9,323.8 617.7,318.9 618.0,317.5 618.6,315.0 619.4,311.5 620.3,308.2 621.1,305.2 622.0,302.4 622.6,300.7 622.8,299.9 623.7,297.4 624.5,295.1 625.4,292.9 626.2,290.8 627.1,288.9 627.9,287.2 628.8,285.7 629.6,284.3 630.5,283.0 631.3,281.8 632.2,280.6 633.1,279.5 633.9,278.4 634.8,277.5 635.6,276.6 636.5,275.8 637.3,275.1 638.2,274.5 638.2,274.5 639.0,273.9 639.9,273.4 640.7,272.9 641.6,272.4 642.4,272.0 643.3,271.6 644.1,271.2 645.0,270.9 645.8,270.5 646.7,270.2 647.5,269.9 648.4,269.6 649.2,269.3 650.1,269.0 650.6,268.9 650.9,268.8 651.8,268.5 652.6,268.2 653.5,268.0 654.3,267.7 655.2,267.5 656.0,267.2 656.9,267.0 657.7,266.7 658.6,266.5 659.4,266.3 660.3,266.1 661.1,265.9 662.0,265.7 662.8,265.6 663.7,265.4 664.5,265.3 665.4,265.2 666.2,265.2 667.1,265.1 667.9,265.1 668.8,265.0 669.6,265.0 670.5,265.0 671.3,265.0 672.2,264.9 673.0,264.9 673.9,264.9 674.7,264.9 675.6,264.9 676.4,264.8 677.3,264.8 678.1,264.8 679.0,264.8 679.8,264.8 680.7,264.8 681.2,264.8 681.5,264.8 682.4,264.8 683.2,264.8 684.1,264.9 684.9,264.9 685.8,264.9 686.6,265.0 687.5,265.0 688.3,265.1 689.2,265.2 690.0,265.2 690.9,265.3 691.7,265.4 692.6,265.5 693.4,265.6 694.3,265.6 695.1,265.7 696.0,265.8 696.8,266.0 697.7,266.1 698.5,266.3 699.4,266.5 700.2,266.7 701.1,266.8 701.9,266.9 702.8,267.0 703.2,267.0 703.6,267.0 704.5,267.0 705.3,267.0 706.2,267.0 707.0,267.0 707.9,267.0 708.7,267.0 709.0,267.0 709.6,266.6 710.4,265.2 711.3,263.6 712.0,262.6 712.1,262.5 713.0,261.8 713.8,261.3 714.7,260.8 715.5,260.4 716.4,260.1 717.2,259.8 718.1,259.6 718.9,259.4 719.8,259.1 720.6,258.9 721.5,258.8 722.3,258.6 723.2,258.5 724.0,258.4 724.9,258.3 725.2,258.2 725.7,258.2 726.6,258.1 727.4,258.1 728.3,258.0 729.1,257.9 730.0,257.9 730.8,257.8 731.7,257.8 732.5,257.7 733.4,257.7 734.2,257.7 735.1,257.7 735.9,257.6 736.8,257.6 737.6,257.6 737.9,257.6 738.5,257.6 739.4,257.6 740.2,257.6 741.1,257.6 741.9,257.7 742.8,257.7 743.6,257.7 744.5,257.7 745.3,257.8 746.2,257.8 747.0,257.8 747.9,257.9 748.7,257.9 749.6,257.9 750.4,258.0 751.3,258.0 752.1,258.1 753.0,258.1 753.8,258.2 754.5,258.2 754.7,258.2 755.5,258.3 756.4,258.4 757.2,258.6 758.1,258.8 758.9,259.0 759.8,259.2 760.6,259.4 761.5,259.7 762.3,259.9 763.2,260.2 764.0,260.5 764.9,260.8 765.7,261.1 766.3,261.4 766.6,261.5 767.4,261.8 768.3,262.2 769.1,262.6 770.0,263.1 770.8,263.6 771.7,264.1 772.5,264.7 773.4,265.3 774.2,265.9 774.8,266.4 775.1,266.6 775.9,267.4 776.8,268.3 777.6,269.3 778.5,270.4 779.3,271.6 780.2,272.8 780.5,273.2 781.0,274.1 781.9,275.4 782.7,276.7 783.6,278.2 784.4,279.8 785.3,281.4 786.1,283.2 787.0,285.0 787.5,286.3 787.8,287.0 788.7,289.4 789.5,292.1 790.4,294.9 791.2,297.7 791.8,299.4 792.1,300.3 792.9,302.9 793.8,305.4 794.6,307.9 795.5,310.5 796.3,313.1 796.8,314.4 797.2,315.8 798.0,318.7 798.9,321.7 799.7,324.7 800.6,327.5 801.0,328.8 801.4,330.1 802.3,333.1 803.1,335.5 803.8,336.3 804.0,336.3 804.8,336.3 805.7,336.3 806.0,336.3 806.5,336.0 807.4,334.6 808.2,332.4 808.8,330.7" fill="none" stroke="#0aff46" stroke-width="2.1" stroke-linejoin="round"/></g>
<path d="M261.24,309.68 L271.64,309.68 L266.44,300.18Z" fill="#0aff46"/>
<path d="M345.54,258.18 L355.94,258.18 L350.74,248.68Z" fill="#0aff46"/>
<path d="M430.26,278.16 L440.66,278.16 L435.46,268.66Z" fill="#0aff46"/>
<path d="M516.15,269.73 L526.55,269.73 L521.35,260.23Z" fill="#0aff46"/>
<path d="M601.19,333.40 L611.59,333.40 L606.39,323.90Z" fill="#0aff46"/>
<g clip-path="url(#plotclip)"><path transform="scale(0.75,1)" d="M241.9,249.5 242.7,249.5 243.6,249.5 244.4,249.5 245.3,249.5 246.1,249.5 247.0,249.6 247.8,249.6 248.7,249.6 249.5,249.6 250.4,249.7 251.2,249.7 252.1,249.7 252.9,249.8 253.8,249.8 254.6,249.9 255.5,249.9 256.3,249.9 257.2,250.0 258.0,250.0 258.9,250.1 259.7,250.1 260.6,250.2 261.4,250.2 262.3,250.3 263.1,250.3 264.0,250.4 264.5,250.4 264.8,250.5 265.7,250.5 266.5,250.6 267.4,250.7 268.2,250.7 269.1,250.8 269.9,250.9 270.8,251.0 271.6,251.1 272.5,251.2 273.3,251.3 274.2,251.4 275.0,251.6 275.9,251.7 276.7,251.8 277.6,251.9 278.4,252.0 279.3,252.2 280.1,252.3 281.0,252.4 281.8,252.6 282.7,252.7 283.5,252.9 284.4,253.1 285.2,253.2 286.1,253.4 286.9,253.6 287.8,253.8 288.6,254.0 289.5,254.2 290.3,254.4 291.2,254.6 292.0,254.8 292.9,255.0 293.7,255.2 294.6,255.4 295.4,255.7 295.7,255.7 296.3,255.9 297.1,256.1 298.0,256.4 298.8,256.6 299.7,256.8 300.5,257.1 301.4,257.3 302.2,257.6 303.1,257.9 303.9,258.1 304.8,258.4 305.6,258.7 306.5,259.0 307.3,259.3 308.2,259.6 309.0,259.9 309.9,260.2 310.7,260.5 311.3,260.7 311.6,260.8 312.4,261.2 313.3,261.5 314.2,261.8 315.0,262.2 315.9,262.5 316.7,262.9 317.6,263.2 318.4,263.6 319.3,264.0 320.1,264.4 321.0,264.9 321.8,265.3 322.7,265.8 323.5,266.3 323.6,266.4 324.4,266.8 325.2,267.4 326.1,268.0 326.9,268.7 327.8,269.4 328.6,270.1 329.5,270.9 330.3,271.8 331.2,272.6 332.0,273.5 332.9,274.5 333.7,275.6 334.6,276.7 335.4,277.8 336.3,279.0 337.1,280.1 337.5,280.7 338.0,281.3 338.8,282.5 339.7,283.6 340.5,284.8 341.4,286.0 342.2,287.2 343.1,288.4 343.9,289.7 344.8,291.0 345.6,292.3 346.5,293.6 347.3,294.9 348.2,296.3 349.0,297.7 349.9,299.1 350.7,300.5 351.6,301.9 352.4,303.3 353.3,304.9 354.1,306.5 355.0,308.2 355.8,310.0 356.7,311.9 357.5,314.0 358.4,316.4 359.2,318.9 360.1,321.7 360.9,324.8 361.6,327.5 361.8,328.1 362.6,331.7 363.5,336.0 364.3,341.1 364.6,343.1 365.2,348.6 366.0,358.6 366.2,360.0 366.9,366.1 367.7,373.1 367.9,374.4 368.6,381.1 369.4,389.9 369.7,393.1 370.3,400.4 371.1,411.8 372.0,421.2 372.8,411.8 373.7,401.2 374.4,393.1 374.5,391.7 375.4,384.2 376.2,377.6 376.7,374.4 377.1,371.3 377.9,365.5 378.6,360.0 378.8,358.7 379.6,349.6 380.2,343.1 380.5,339.9 381.3,330.1 381.9,324.4 382.2,322.0 383.0,315.7 383.6,311.9 383.9,310.0 384.7,304.5 385.6,299.4 386.4,295.1 387.3,291.4 388.1,288.2 389.0,285.3 389.8,282.5 390.4,280.7 390.7,279.8 391.5,277.2 392.4,274.8 393.2,272.5 394.1,270.4 394.2,270.1 394.9,268.5 395.8,266.7 396.6,265.1 397.5,263.7 397.8,263.2 398.3,262.4 399.2,261.2 400.0,260.1 400.9,259.1 401.7,258.2 402.6,257.5 403.4,257.0 403.4,257.0 404.3,256.6 405.1,256.3 406.0,256.0 406.8,255.7 407.7,255.5 408.5,255.3 409.4,255.2 410.2,255.1 410.5,255.1 411.1,255.1 411.9,255.2 412.8,255.4 413.6,255.6 414.5,255.9 415.3,256.2 416.2,256.5 417.0,256.8 417.6,257.0 417.9,257.1 418.7,257.4 419.6,257.7 420.5,258.1 421.3,258.5 422.2,258.8 423.0,259.2 423.9,259.7 424.7,260.1 425.6,260.5 426.1,260.7 426.4,260.9 427.3,261.3 428.1,261.7 429.0,262.1 429.8,262.5 430.7,262.9 431.5,263.4 432.4,263.8 433.2,264.2 434.1,264.7 434.9,265.1 435.8,265.6 436.0,265.7 436.6,266.0 437.5,266.5 438.3,266.9 439.2,267.4 440.0,267.9 440.9,268.3 441.7,268.8 442.6,269.3 443.4,269.8 444.3,270.3 445.1,270.8 446.0,271.3 446.8,271.9 447.0,272.0 447.7,272.4 448.5,273.0 449.4,273.7 450.2,274.3 451.1,275.0 451.9,275.7 452.8,276.3 453.6,277.0 454.5,277.6 455.3,278.2 456.2,278.8 457.0,279.4 457.9,280.1 458.7,280.7 459.6,281.4 460.4,282.0 461.3,282.6 462.1,283.2 463.0,283.8 463.8,284.3 464.7,284.8 465.5,285.3 466.4,285.7 467.2,286.0 468.1,286.3 468.9,286.6 469.8,286.9 470.6,287.1 471.5,287.3 472.3,287.5 472.9,287.6 473.2,287.6 474.0,287.7 474.9,287.7 475.7,287.8 476.6,287.9 476.9,287.9 477.4,288.1 478.3,288.6 479.1,289.4 479.4,289.8 480.0,291.1 480.8,294.4 481.1,295.7 481.7,298.9 482.5,304.4 483.4,309.4 484.2,314.4 485.1,320.0 485.9,329.9 486.5,336.9 486.8,340.3 487.6,349.7 487.9,350.6 488.5,350.1 489.3,348.2 489.9,346.9 490.2,346.2 491.0,343.9 491.9,341.6 492.7,340.6 493.6,340.6 494.4,340.6 494.6,340.6 495.3,341.7 496.1,344.4 496.6,345.6 497.0,346.7 497.8,348.7 498.7,350.7 499.5,352.7 500.4,354.5 501.2,356.2 502.1,357.7 502.9,359.0 503.8,360.6 504.1,361.2 504.6,363.1 505.5,367.0 506.3,371.5 507.2,376.1 507.5,377.5 508.0,380.1 508.9,383.9 509.7,387.8 510.2,390.0 510.6,392.3 511.4,397.4 512.3,402.8 513.1,407.9 513.3,408.7 514.0,413.0 514.8,418.6 515.7,422.9 516.4,424.3 516.5,424.2 517.4,419.8 518.2,411.9 519.0,405.6 519.1,404.5 519.9,397.8 520.8,391.0 521.1,388.7 521.6,384.0 522.5,376.9 523.2,371.2 523.3,370.1 524.2,363.7 525.0,357.6 525.8,353.1 525.9,352.3 526.8,347.6 527.6,343.2 528.5,339.1 529.3,335.2 530.2,331.3 530.4,330.0 531.0,327.4 531.9,323.5 532.7,319.6 533.6,315.9 534.4,312.5 535.3,309.4 536.1,306.7 537.0,304.2 537.8,301.9 538.7,299.7 539.5,297.6 540.4,295.6 541.2,293.7 542.1,291.9 542.9,290.1 543.8,288.4 544.6,286.6 544.8,286.3 545.5,284.9 546.3,283.1 547.2,281.3 548.0,279.6 548.9,278.0 549.4,277.0 549.7,276.5 550.6,275.0 551.4,273.5 552.3,272.2 553.1,270.9 553.7,270.1 554.0,269.7 554.8,268.6 555.7,267.6 556.5,266.6 557.4,265.7 558.2,264.8 559.1,264.1 559.3,263.9 559.9,263.4 560.8,262.7 561.6,262.0 562.5,261.4 563.3,260.8 564.2,260.4 565.0,260.2 565.6,260.1 565.9,260.1 566.7,260.2 567.6,260.4 568.4,260.6 569.3,260.9 570.1,261.2 570.7,261.4 571.0,261.5 571.8,261.9 572.7,262.5 573.5,263.1 574.4,263.8 575.2,264.5 575.9,265.1 576.1,265.2 576.9,266.0 577.8,266.8 578.6,267.6 579.5,268.4 580.3,269.3 581.2,270.2 582.0,271.2 582.9,272.2 583.7,273.1 584.6,274.1 584.9,274.5 585.4,275.1 586.3,276.1 587.1,277.2 588.0,278.3 588.8,279.4 589.7,280.6 590.5,282.0 591.4,283.4 592.2,285.0 593.1,286.8 593.9,288.7 594.5,290.1 594.8,290.8 595.6,293.0 596.5,295.3 597.3,297.8 598.2,300.4 599.0,303.3 599.9,306.3 600.7,309.4 601.6,313.0 602.4,317.1 603.3,321.4 604.1,325.8 605.0,330.0 605.8,334.1 606.7,338.1 607.5,342.2 608.2,345.6 608.4,346.3 609.2,350.6 610.1,354.9 610.9,359.2 611.2,360.6 611.8,363.6 612.6,368.1 613.5,372.6 614.3,376.4 614.6,377.5 615.2,379.6 616.0,382.7 616.9,385.3 617.7,386.7 618.0,386.8 618.6,385.5 619.4,380.2 620.3,373.7 620.6,371.9 621.1,368.3 622.0,362.7 622.8,357.3 623.3,355.0 623.7,352.9 624.5,349.0 625.4,345.4 626.0,343.1 626.2,342.0 627.1,338.9 627.9,336.0 628.8,333.1 629.6,330.4 630.5,327.5 631.3,324.8 632.2,322.2 633.1,319.8 633.9,317.6 634.3,316.7 634.8,315.8 635.6,314.2 636.5,312.7 637.3,311.3 638.2,310.0 639.0,308.8 639.9,307.6 639.9,307.6 640.7,306.4 641.6,305.2 642.4,304.1 643.3,303.0 644.1,301.9 645.0,300.9 645.8,300.0 646.7,299.1 646.9,298.8 647.5,298.3 648.4,297.5 649.2,296.7 650.1,296.0 650.9,295.3 651.8,294.6 652.6,294.0 653.5,293.3 654.3,292.7 655.2,292.1 656.0,291.5 656.9,290.9 657.7,290.4 658.6,289.8 659.4,289.2 660.0,288.8 660.3,288.6 661.1,288.1 662.0,287.5 662.8,286.9 663.7,286.3 664.5,285.8 665.4,285.3 666.2,284.9 667.1,284.5 667.9,284.1 668.8,283.7 669.6,283.4 670.5,283.1 671.3,282.8 672.2,282.5 673.0,282.2 673.9,281.9 674.7,281.7 675.6,281.4 676.4,281.2 677.3,281.0 678.1,280.8 678.4,280.7 679.0,280.6 679.8,280.4 680.7,280.2 681.5,280.0 682.4,279.8 683.2,279.7 684.1,279.5 684.9,279.3 685.8,279.2 686.6,279.1 687.5,279.0 688.3,278.9 689.2,278.9 690.0,278.8 690.9,278.9 691.7,279.0 692.6,279.3 693.4,279.6 694.3,280.0 695.1,280.4 696.0,280.9 696.8,281.4 697.7,281.9 698.5,282.4 698.8,282.6 699.4,283.0 700.2,283.7 701.1,284.5 701.9,285.3 702.5,285.7 702.8,285.9 703.6,286.4 704.5,286.9 705.1,287.0 705.3,286.9 706.2,286.0 707.0,284.6 707.9,282.9 708.7,281.4 709.0,281.0 709.6,280.3 710.4,279.3 711.3,278.3 712.1,277.5 713.0,277.0 713.4,277.0 713.8,277.0 714.7,277.3 715.5,277.8 716.4,278.3 717.2,278.8 717.4,278.8 718.1,279.2 718.9,279.8 719.8,280.2 720.6,280.5 720.8,280.5 721.5,280.0 722.3,278.6 723.2,276.8 723.8,275.7 724.0,275.2 724.9,273.7 725.7,272.2 726.6,270.8 727.4,269.5 728.3,268.3 729.1,267.2 730.0,266.2 730.8,265.3 731.7,264.5 732.5,263.9 733.4,263.3 734.2,262.9 735.1,262.5 735.9,262.1 736.8,261.8 737.6,261.5 737.9,261.4 738.5,261.2 739.4,260.9 740.2,260.6 741.1,260.3 741.9,260.1 742.8,259.9 743.6,259.7 744.5,259.6 745.3,259.5 745.7,259.5 746.2,259.5 747.0,259.5 747.9,259.6 748.7,259.7 749.6,259.8 750.4,259.9 751.3,260.0 752.1,260.2 753.0,260.3 753.8,260.5 754.7,260.7 755.5,260.9 756.4,261.1 757.2,261.3 757.4,261.4 758.1,261.5 758.9,261.8 759.8,262.1 760.6,262.4 761.5,262.8 762.3,263.2 763.2,263.6 764.0,264.1 764.9,264.6 765.7,265.1 766.6,265.6 767.4,266.1 768.3,266.7 769.1,267.3 770.0,267.9 770.8,268.7 771.7,269.5 772.5,270.4 773.4,271.3 774.2,272.4 775.1,273.5 775.9,274.8 776.8,276.1 777.6,277.5 778.5,278.9 779.3,280.4 780.2,282.0 781.0,283.6 781.2,283.8 781.9,285.2 782.7,287.0 783.6,288.8 784.4,290.7 785.3,292.7 786.1,294.8 787.0,296.9 787.8,299.0 788.7,301.2 789.5,303.4 790.4,305.7 791.2,307.9 791.8,309.4 792.1,310.2 792.9,312.6 793.8,315.0 794.6,317.6 795.5,320.2 796.3,322.8 797.2,325.4 798.0,327.9 798.9,330.4 799.7,332.8 799.9,333.1 800.6,335.1 801.4,337.5 802.3,339.7 803.1,341.3 804.0,342.5 804.8,343.1 805.7,342.4 806.5,340.9 806.7,340.6 807.4,338.8 808.2,335.7 808.8,333.1" fill="none" stroke="#fd0c12" stroke-width="2.1" stroke-linejoin="round"/></g>
<path d="M237.54,262.35 L247.94,262.35 L242.74,271.85Z" fill="#fd0c12"/>
<path d="M297.38,252.99 L307.78,252.99 L302.58,262.49Z" fill="#fd0c12"/>
<path d="M358.61,316.04 L369.01,316.04 L363.81,325.54Z" fill="#fd0c12"/>
<path d="M418.99,256.11 L429.39,256.11 L424.19,265.61Z" fill="#fd0c12"/>
<path d="M480.01,294.19 L490.41,294.19 L485.21,303.69Z" fill="#fd0c12"/>
<path d="M540.38,265.48 L550.78,265.48 L545.58,274.98Z" fill="#fd0c12"/>
<g clip-path="url(#plotclip)"><path transform="scale(0.75,1)" d="M241.9,249.5 242.7,249.5 243.6,249.6 244.4,249.6 245.3,249.6 246.1,249.7 247.0,249.7 247.8,249.8 248.7,249.8 249.5,249.9 250.4,249.9 251.2,250.0 252.1,250.0 252.9,250.1 253.2,250.1 253.8,250.2 254.6,250.2 255.5,250.3 256.3,250.4 257.2,250.5 258.0,250.6 258.9,250.6 259.7,250.7 260.6,250.8 261.4,250.9 262.3,251.1 263.1,251.2 264.0,251.3 264.5,251.4 264.8,251.4 265.7,251.5 266.5,251.7 267.4,251.8 268.2,252.0 269.1,252.2 269.9,252.3 270.8,252.5 271.6,252.7 272.5,252.9 273.3,253.1 274.2,253.3 275.0,253.5 275.9,253.7 276.7,253.9 277.6,254.2 278.4,254.4 279.3,254.6 280.1,254.9 281.0,255.1 281.8,255.4 282.7,255.6 283.5,255.9 284.4,256.2 285.2,256.5 286.1,256.8 286.9,257.1 287.8,257.4 288.6,257.8 289.5,258.1 290.3,258.5 291.2,258.8 292.0,259.2 292.9,259.5 293.7,259.9 294.6,260.2 295.4,260.6 295.7,260.7 296.3,261.0 297.1,261.4 298.0,261.8 298.8,262.1 299.7,262.5 300.5,263.0 301.4,263.4 302.2,263.8 303.1,264.2 303.9,264.7 304.8,265.1 305.6,265.6 306.5,266.0 307.3,266.5 308.2,267.0 309.0,267.5 309.9,268.0 310.7,268.5 311.3,268.9 311.6,269.0 312.4,269.6 313.3,270.1 314.2,270.7 315.0,271.2 315.9,271.8 316.7,272.4 317.6,273.0 318.4,273.6 319.3,274.2 320.1,274.8 321.0,275.5 321.8,276.2 322.7,276.9 323.5,277.6 324.4,278.4 325.2,279.1 326.1,279.9 326.9,280.7 327.8,281.6 328.6,282.5 329.5,283.5 330.3,284.5 331.2,285.5 332.0,286.7 332.9,287.8 333.7,289.0 334.6,290.1 335.4,291.3 336.3,292.5 337.1,293.8 338.0,295.1 338.8,296.4 339.7,297.8 340.5,299.2 341.4,300.6 342.2,302.1 343.1,303.5 343.9,305.0 344.8,306.5 345.6,307.9 346.5,309.4 347.3,310.9 347.9,311.9 348.2,312.4 349.0,313.9 349.9,315.4 350.7,317.0 351.6,318.5 352.4,320.1 353.3,321.7 354.1,323.3 355.0,324.9 355.8,326.5 356.7,328.2 357.5,329.8 358.4,331.3 359.2,332.8 360.1,334.3 360.9,335.9 361.8,337.6 362.6,339.5 363.5,341.6 364.0,343.1 364.3,344.0 365.2,347.3 366.0,351.1 366.9,355.1 367.7,358.9 368.0,360.0 368.6,362.0 369.4,364.6 370.3,367.0 371.1,369.7 372.0,373.0 372.3,374.4 372.8,377.6 373.7,384.2 374.5,392.0 375.4,400.2 375.9,405.6 376.2,408.2 377.1,416.0 377.9,424.2 378.8,433.4 379.1,436.8 379.6,445.0 380.3,455.5 380.5,457.4 381.2,464.9 381.3,465.4 382.0,466.7 382.2,466.7 383.0,464.9 383.9,457.1 384.0,455.5 384.7,447.4 385.6,436.8 386.4,424.5 387.3,412.0 387.9,405.6 388.1,403.0 389.0,396.0 389.8,389.9 390.7,384.6 391.5,379.9 392.4,375.7 392.7,374.4 393.2,371.9 394.1,368.8 394.9,366.0 395.8,363.2 396.6,360.0 397.5,356.2 398.3,352.1 399.2,348.0 400.0,344.3 400.3,343.1 400.9,341.0 401.7,338.0 402.6,335.2 403.4,332.4 404.3,329.9 405.1,327.5 406.0,325.1 406.3,324.4 406.8,323.0 407.7,320.9 408.5,318.9 409.4,317.0 410.2,315.2 411.1,313.5 411.9,311.9 412.8,310.4 413.6,309.0 414.5,307.7 415.3,306.3 416.2,305.1 417.0,303.9 417.9,302.7 418.7,301.6 419.6,300.5 420.5,299.4 421.3,298.4 422.2,297.5 423.0,296.6 423.9,295.7 424.7,294.8 425.6,294.0 426.4,293.2 427.3,292.3 428.1,291.4 429.0,290.6 429.8,289.6 429.9,289.5 430.7,288.6 431.5,287.6 432.4,286.5 433.2,285.4 434.1,284.2 434.9,283.1 435.8,282.0 436.6,280.9 437.5,279.8 438.3,278.8 439.2,277.9 439.2,277.9 440.0,277.0 440.9,276.1 441.7,275.3 442.6,274.4 443.4,273.6 444.3,272.8 445.1,272.0 446.0,271.3 446.8,270.5 447.7,269.8 448.5,269.2 449.4,268.6 450.2,268.0 451.1,267.4 451.9,266.9 452.8,266.3 453.6,265.8 454.5,265.3 455.3,264.8 456.2,264.4 457.0,263.9 457.9,263.5 458.7,263.1 459.6,262.8 460.4,262.5 461.1,262.2 461.3,262.2 462.1,261.9 463.0,261.6 463.8,261.4 464.7,261.2 465.5,261.0 466.4,260.8 467.2,260.7 467.6,260.7 468.1,260.8 468.9,260.9 469.8,261.1 470.6,261.5 471.5,261.9 472.3,262.5 473.2,263.0 473.2,263.0 474.0,264.1 474.9,265.7 475.7,267.6 475.7,267.6 476.6,269.8 477.4,272.4 477.6,272.9 478.3,275.5 479.1,278.9 479.3,279.5 480.0,282.7 480.4,283.6 480.8,282.8 481.7,278.8 482.5,275.4 483.1,272.9 483.4,271.6 484.2,267.4 484.7,265.7 485.1,264.3 485.9,262.0 486.4,261.4 486.8,260.9 487.6,260.1 488.5,259.4 489.3,258.8 490.2,258.3 491.0,258.1 491.9,257.9 492.7,257.9 493.6,257.8 494.4,257.8 495.3,257.8 496.1,257.7 497.0,257.7 497.8,257.7 498.7,257.7 499.5,257.7 500.4,257.6 501.2,257.6 502.1,257.6 502.9,257.6 503.8,257.6 504.6,257.6 505.1,257.6 505.5,257.6 506.3,257.7 507.2,257.8 508.0,257.9 508.9,258.0 509.7,258.2 510.6,258.4 511.4,258.6 512.3,258.8 513.1,259.0 514.0,259.2 514.8,259.4 515.7,259.6 516.5,259.8 517.4,260.1 518.2,260.3 519.1,260.6 519.9,260.9 520.8,261.2 521.6,261.4 522.5,261.7 523.3,261.9 523.6,262.0 524.2,262.1 525.0,262.4 525.9,262.6 526.8,262.8 527.6,263.0 528.5,263.2 529.3,263.4 530.2,263.6 531.0,263.8 531.9,264.0 532.7,264.2 533.6,264.4 534.4,264.6 535.3,264.8 536.1,265.0 536.7,265.1 537.0,265.2 537.8,265.4 538.7,265.6 539.5,265.8 540.4,266.0 541.2,266.2 542.1,266.4 542.9,266.6 543.8,266.8 544.6,267.1 545.5,267.3 546.3,267.5 547.2,267.7 548.0,268.0 548.9,268.2 549.7,268.5 550.6,268.8 550.8,268.9 551.4,269.0 552.3,269.3 553.1,269.6 554.0,270.0 554.8,270.3 555.7,270.6 556.5,271.0 557.4,271.4 558.2,271.7 559.1,272.1 559.9,272.5 560.8,272.9 561.6,273.3 562.5,273.7 563.3,274.2 564.2,274.6 565.0,275.0 565.9,275.4 566.4,275.7 566.7,275.9 567.6,276.3 568.4,276.7 569.3,277.2 570.1,277.7 571.0,278.1 571.8,278.6 572.7,279.1 573.5,279.6 574.4,280.1 575.2,280.6 576.1,281.2 576.9,281.7 577.8,282.2 578.6,282.8 579.5,283.3 580.3,283.9 581.2,284.5 582.0,285.1 582.9,285.7 583.7,286.3 584.6,287.0 585.4,287.6 586.3,288.3 587.1,289.0 588.0,289.7 588.8,290.5 589.7,291.2 590.5,291.9 591.4,292.7 592.2,293.4 593.1,294.2 593.9,294.9 594.8,295.7 595.6,296.6 596.5,297.5 597.1,298.2 597.3,298.5 598.2,299.7 599.0,300.9 599.9,302.2 600.7,303.7 601.6,305.1 602.4,306.7 602.6,306.9 603.3,308.3 604.1,310.0 605.0,311.8 605.8,313.7 606.7,315.6 607.0,316.3 607.5,317.7 608.4,319.7 609.2,321.9 610.1,324.2 610.9,326.5 611.8,328.9 612.6,331.5 612.8,331.9 613.5,334.1 614.3,336.8 615.2,339.6 616.0,342.6 616.9,345.9 617.5,348.1 617.7,349.3 618.6,353.2 619.4,357.5 620.3,362.0 621.1,366.6 622.0,371.1 622.1,371.9 622.8,375.8 623.7,380.8 624.5,385.5 625.3,388.7 625.4,389.3 626.2,392.9 627.1,395.4 627.4,395.6 627.9,395.0 628.8,392.5 629.5,390.0 629.6,389.5 630.5,385.7 631.3,381.1 632.2,376.3 633.1,371.9 633.1,371.9 633.9,367.8 634.8,363.8 635.6,359.8 636.5,356.0 637.3,352.2 638.2,348.5 639.0,345.0 639.1,344.4 639.9,341.5 640.7,338.0 641.6,334.7 642.4,331.4 643.3,328.3 644.1,325.4 644.4,324.4 645.0,322.6 645.8,319.9 646.7,317.3 647.5,314.9 648.4,312.6 648.6,311.9 649.2,310.5 650.1,308.5 650.9,306.6 651.8,304.8 652.6,303.2 653.5,301.7 653.7,301.3 654.3,300.5 655.2,299.4 656.0,298.3 656.9,297.4 657.7,296.5 658.6,295.7 659.4,294.9 660.0,294.4 660.3,294.2 661.1,293.6 662.0,293.0 662.8,292.5 663.7,292.0 664.5,291.5 665.4,291.0 666.2,290.6 667.1,290.1 667.9,289.6 668.8,289.1 669.6,288.6 670.5,288.0 671.3,287.5 672.2,287.0 673.0,286.5 673.9,286.1 674.7,285.6 675.6,285.1 676.4,284.7 677.3,284.3 678.1,284.0 678.4,283.8 679.0,283.6 679.8,283.2 680.7,282.9 681.5,282.5 682.4,282.1 683.2,281.8 684.1,281.4 684.9,281.1 685.8,280.8 686.6,280.6 687.5,280.4 688.3,280.2 689.2,280.1 690.0,280.1 690.9,280.1 691.7,280.3 692.6,280.5 693.4,280.8 694.3,281.1 695.1,281.5 696.0,281.9 696.8,282.3 697.4,282.6 697.7,282.7 698.5,283.4 699.4,284.1 700.2,285.0 701.1,285.8 701.8,286.3 701.9,286.4 702.8,287.2 703.6,287.8 704.5,288.2 704.6,288.2 705.3,287.5 706.2,285.5 707.0,283.1 707.5,282.0 707.9,280.9 708.7,278.4 709.6,275.8 710.4,273.5 711.3,271.7 711.3,271.7 712.1,270.3 713.0,269.1 713.8,268.1 714.7,267.2 715.5,266.4 716.4,265.7 717.2,265.1 718.1,264.6 718.9,264.0 719.8,263.5 720.6,263.1 721.5,262.7 722.3,262.3 723.2,262.0 724.0,261.7 724.9,261.4 725.2,261.4 725.7,261.2 726.6,261.0 727.4,260.8 728.3,260.7 729.1,260.5 730.0,260.3 730.8,260.2 731.7,260.0 732.5,259.9 733.4,259.8 734.2,259.7 735.1,259.6 735.9,259.5 736.8,259.5 737.6,259.5 737.9,259.5 738.5,259.5 739.4,259.5 740.2,259.6 741.1,259.6 741.9,259.7 742.8,259.8 743.6,259.9 744.5,260.0 745.3,260.1 745.7,260.1 746.2,260.2 747.0,260.3 747.9,260.6 748.7,260.8 749.6,261.1 750.4,261.4 751.3,261.8 752.1,262.2 753.0,262.6 753.8,263.1 754.7,263.6 755.5,264.0 756.4,264.5 757.2,265.0 757.4,265.1 758.1,265.5 758.9,266.1 759.8,266.7 760.6,267.4 761.5,268.1 762.3,268.9 763.2,269.7 764.0,270.5 764.9,271.3 765.7,272.2 766.6,273.1 767.4,273.9 768.3,274.8 769.1,275.7 770.0,276.6 770.8,277.5 771.7,278.5 772.5,279.6 773.4,280.7 774.2,282.0 775.1,283.4 775.9,284.9 776.8,286.5 777.6,288.2 777.6,288.2 778.5,289.9 779.3,291.7 780.2,293.6 781.0,295.6 781.9,297.6 782.7,299.6 783.6,301.7 784.4,303.8 784.7,304.4 785.3,305.8 786.1,307.9 787.0,310.1 787.8,312.3 788.7,314.4 789.5,316.6 790.4,318.8 791.2,320.9 792.1,323.1 792.9,325.2 793.8,327.4 794.6,329.5 795.5,331.7 796.0,333.1 796.3,333.9 797.2,336.1 798.0,338.3 798.9,340.5 799.7,342.8 799.9,343.1 800.6,345.0 801.4,347.3 802.3,349.6 803.1,351.9 804.0,354.3 804.8,356.7 805.7,359.0 806.5,361.0 806.7,361.2 807.4,362.5 808.2,363.7 808.8,364.4" fill="none" stroke="#1180c6" stroke-width="2.1" stroke-linejoin="round"/></g>
<rect x="176.90" y="245.00" width="9" height="9" fill="#1180c6"/>
<rect x="247.06" y="286.82" width="9" height="9" fill="#1180c6"/>
<rect x="317.96" y="284.95" width="9" height="9" fill="#1180c6"/>
<rect x="388.22" y="257.49" width="9" height="9" fill="#1180c6"/>
<rect x="458.60" y="343.63" width="9" height="9" fill="#1180c6"/>
<rect x="528.97" y="267.16" width="9" height="9" fill="#1180c6"/>
<rect x="600.51" y="357.99" width="9" height="9" fill="#1180c6"/>
<text transform="translate(181.40,525.7) scale(0.96,1.04)" font-family="Liberation Serif, serif" font-size="19" font-weight="bold" text-anchor="middle" fill="#111">0</text>
<text transform="translate(234.55,525.7) scale(0.96,1.04)" font-family="Liberation Serif, serif" font-size="19" font-weight="bold" text-anchor="middle" fill="#111">0.5</text>
<text transform="translate(287.70,525.7) scale(0.96,1.04)" font-family="Liberation Serif, serif" font-size="19" font-weight="bold" text-anchor="middle" fill="#111">1</text>
<text transform="translate(340.85,525.7) scale(0.96,1.04)" font-family="Liberation Serif, serif" font-size="19" font-weight="bold" text-anchor="middle" fill="#111">1.5</text>
<text transform="translate(394.00,525.7) scale(0.96,1.04)" font-family="Liberation Serif, serif" font-size="19" font-weight="bold" text-anchor="middle" fill="#111">2</text>
<text transform="translate(447.15,525.7) scale(0.96,1.04)" font-family="Liberation Serif, serif" font-size="19" font-weight="bold" text-anchor="middle" fill="#111">2.5</text>
<text transform="translate(500.30,525.7) scale(0.96,1.04)" font-family="Liberation Serif, serif" font-size="19" font-weight="bold" text-anchor="middle" fill="#111">3</text>
<text transform="translate(553.45,525.7) scale(0.96,1.04)" font-family="Liberation Serif, serif" font-size="19" font-weight="bold" text-anchor="middle" fill="#111">3.5</text>
<text transform="translate(606.60,525.7) scale(0.96,1.04)" font-family="Liberation Serif, serif" font-size="19" font-weight="bold" text-anchor="middle" fill="#111">4</text>
<text transform="translate(173.5,256.50) scale(0.96,1.04)" font-family="Liberation Serif, serif" font-size="19" font-weight="bold" text-anchor="end" fill="#111">0</text>
<text transform="translate(173.5,287.71) scale(0.96,1.04)" font-family="Liberation Serif, serif" font-size="19" font-weight="bold" text-anchor="end" fill="#111">-5</text>
<text transform="translate(173.5,318.93) scale(0.96,1.04)" font-family="Liberation Serif, serif" font-size="19" font-weight="bold" text-anchor="end" fill="#111">-10</text>
<text transform="translate(173.5,350.14) scale(0.96,1.04)" font-family="Liberation Serif, serif" font-size="19" font-weight="bold" text-anchor="end" fill="#111">-15</text>
<text transform="translate(173.5,381.35) scale(0.96,1.04)" font-family="Liberation Serif, serif" font-size="19" font-weight="bold" text-anchor="end" fill="#111">-20</text>
<text transform="translate(173.5,412.56) scale(0.96,1.04)" font-family="Liberation Serif, serif" font-size="19" font-weight="bold" text-anchor="end" fill="#111">-25</text>
<text transform="translate(173.5,443.77) scale(0.96,1.04)" font-family="Liberation Serif, serif" font-size="19" font-weight="bold" text-anchor="end" fill="#111">-30</text>
<text transform="translate(173.5,474.99) scale(0.96,1.04)" font-family="Liberation Serif, serif" font-size="19" font-weight="bold" text-anchor="end" fill="#111">-35</text>
<text transform="translate(173.5,506.20) scale(0.96,1.04)" font-family="Liberation Serif, serif" font-size="19" font-weight="bold" text-anchor="end" fill="#111">-40</text>
<text x="329.5" y="550.5" font-family="Liberation Serif, serif" font-size="17.5" font-weight="bold" fill="#111" textLength="127.8" lengthAdjust="spacingAndGlyphs">Frequency(GHz)</text>
<text transform="translate(132.2,415.0) rotate(-90) scale(1.085,1)" font-family="Liberation Serif, serif" font-size="17" font-weight="bold" fill="#111">S<tspan font-size="11" dy="4">21</tspan><tspan dy="-4">(dB)</tspan></text>
<rect x="480.4" y="387.4" width="105.9" height="93" fill="#fff" stroke="#111" stroke-width="1.4"/>
<line x1="483.6" y1="396.3" x2="506.2" y2="396.3" stroke="#0c3f3f" stroke-width="1.3"/>
<circle cx="494.8" cy="396.3" r="3.1" fill="#0c3f3f"/>
<text x="511.7" y="401.1" font-family="Liberation Serif, serif" font-size="13.6" font-weight="bold" fill="#0c3f3f" textLength="63" lengthAdjust="spacingAndGlyphs">Moore_1</text>
<line x1="483.6" y1="420.0" x2="506.2" y2="420.0" stroke="#0aff46" stroke-width="1.3"/>
<path d="M491.0,422.8 L498.6,422.8 L494.8,416.0Z" fill="#0aff46"/>
<text x="511.7" y="424.8" font-family="Liberation Serif, serif" font-size="13.6" font-weight="bold" fill="#0aff46" textLength="63" lengthAdjust="spacingAndGlyphs">Moore_2</text>
<line x1="483.6" y1="442.6" x2="506.2" y2="442.6" stroke="#fd0c12" stroke-width="1.3"/>
<path d="M491.0,439.8 L498.6,439.8 L494.8,446.6Z" fill="#fd0c12"/>
<text x="511.7" y="447.40000000000003" font-family="Liberation Serif, serif" font-size="13.6" font-weight="bold" fill="#fd0c12" textLength="63" lengthAdjust="spacingAndGlyphs">Moore_3</text>
<line x1="483.6" y1="465.6" x2="506.2" y2="465.6" stroke="#1180c6" stroke-width="1.3"/>
<rect x="491.6" y="462.40000000000003" width="6.4" height="6.4" fill="#1180c6"/>
<text x="511.7" y="470.40000000000003" font-family="Liberation Serif, serif" font-size="13.6" font-weight="bold" fill="#1180c6" textLength="63" lengthAdjust="spacingAndGlyphs">Moore_4</text>
</svg>
</body></html>
